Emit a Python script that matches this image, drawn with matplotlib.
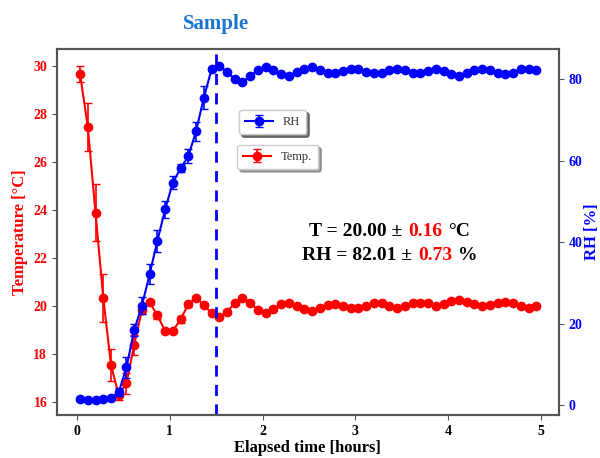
import numpy as np
import matplotlib
matplotlib.use("Agg")
import matplotlib.pyplot as plt

plt.rcParams['font.family'] = 'serif'
plt.rcParams['font.serif'] = ['Liberation Serif', 'DejaVu Serif']
plt.rcParams['font.weight'] = 'bold'

# sampling times in minutes (one reading every 5 min)
minutes = [2, 7, 12, 17, 22, 27, 32, 37, 42, 47, 52, 57, 62, 67, 72, 77, 82, 87, 92, 97,
           102, 107, 112, 117, 122, 127, 132, 137, 142, 147, 152, 157, 162, 167, 172, 177, 182, 187, 192, 197,
           202, 207, 212, 217, 222, 227, 232, 237, 242, 247, 252, 257, 262, 267, 272, 277, 282, 287, 292, 297]

temp = [29.67, 27.47, 23.89, 20.35, 17.54, 16.29, 16.78, 18.38, 19.83, 20.15,
        19.61, 18.96, 18.96, 19.45, 20.07, 20.35, 20.04, 19.70, 19.55, 19.76,
        20.11, 20.35, 20.14, 19.83, 19.70, 19.86, 20.07, 20.14, 20.00, 19.86,
        19.79, 19.90, 20.04, 20.08, 20.01, 19.92, 19.92, 20.00, 20.11, 20.11,
        20.01, 19.90, 20.00, 20.11, 20.14, 20.11, 20.00, 20.07, 20.21, 20.25,
        20.18, 20.07, 20.01, 20.04, 20.14, 20.15, 20.11, 20.01, 19.93, 20.00]
temp_err = [0.33, 1.00, 1.20, 1.00, 0.68, 0.20, 0.43, 0.42, 0.17, 0.10,
            0.15, 0.10, 0.10, 0.15, 0.10, 0.08, 0.08, 0.08, 0.08, 0.08,
            0.08, 0.08, 0.08, 0.08, 0.08, 0.08, 0.08, 0.08, 0.08, 0.08,
            0.08, 0.08, 0.08, 0.08, 0.08, 0.08, 0.08, 0.08, 0.08, 0.08,
            0.08, 0.08, 0.08, 0.08, 0.08, 0.08, 0.08, 0.08, 0.08, 0.08,
            0.08, 0.08, 0.08, 0.08, 0.08, 0.08, 0.08, 0.08, 0.08, 0.08]

rh = [1.5, 1.3, 1.3, 1.5, 1.7, 3.1, 9.2, 18.4, 24.4, 32.1,
      40.3, 48.0, 54.6, 58.1, 61.1, 67.2, 75.4, 82.4, 83.3, 81.8,
      80.0, 79.2, 80.8, 82.2, 82.9, 82.2, 81.2, 80.8, 81.8, 82.6,
      83.0, 82.2, 81.6, 81.4, 82.0, 82.5, 82.5, 81.8, 81.4, 81.5,
      82.2, 82.6, 82.2, 81.6, 81.4, 82.0, 82.5, 82.0, 81.2, 80.8,
      81.4, 82.2, 82.5, 82.2, 81.5, 81.2, 81.6, 82.4, 82.6, 82.2]
rh_err = [0.3, 0.3, 0.3, 0.3, 0.3, 1.0, 2.5, 1.5, 2.0, 2.5,
          2.7, 2.0, 1.6, 1.0, 1.7, 2.3, 2.8, 0.5, 0.3, 0.3,
          0.3, 0.3, 0.3, 0.3, 0.3, 0.3, 0.3, 0.3, 0.3, 0.3,
          0.3, 0.3, 0.3, 0.3, 0.3, 0.3, 0.3, 0.3, 0.3, 0.3,
          0.3, 0.3, 0.3, 0.3, 0.3, 0.3, 0.3, 0.3, 0.3, 0.3,
          0.3, 0.3, 0.3, 0.3, 0.3, 0.3, 0.3, 0.3, 0.3, 0.3]

sample_time = 1.5
hours = np.array(minutes) / 60.0

fig = plt.figure(figsize=(6, 4.58), dpi=100)
ax = fig.add_axes([0.095, 0.094, 0.836, 0.799])
ax2 = ax.twinx()

ax.errorbar(hours, temp, yerr=temp_err, color='red', marker='o', ms=6, lw=1.5,
            capsize=3, elinewidth=1.2, label='Temp.')
ax2.errorbar(hours, rh, yerr=rh_err, color='blue', marker='o', ms=6, lw=1.5,
             capsize=3, elinewidth=1.2, label='RH')
ax2.axvline(sample_time, color='blue', ls='--', lw=2, dashes=(4, 3))

ax.set_xlim(-0.215, 5.19)
ax.set_ylim(15.46, 30.71)
ax2.set_ylim(-2.45, 87.4)
ax.set_xticks([0, 1, 2, 3, 4, 5])
ax.set_yticks([16, 18, 20, 22, 24, 26, 28, 30])
ax2.set_yticks([0, 20, 40, 60, 80])

ax.set_xlabel('Elapsed time [hours]', fontsize=12, fontweight='bold', labelpad=2)
ax.set_ylabel('Temperature [°C]', fontsize=12, fontweight='bold', color='red', labelpad=4)
ax2.set_ylabel('RH [%]', fontsize=12, fontweight='bold', color='blue', labelpad=1)

ax.tick_params(axis='y', colors='red', labelsize=10)
ax.tick_params(axis='x', labelsize=10)
ax2.tick_params(axis='y', colors='blue', labelsize=10)
for a in (ax, ax2):
    for lab in a.get_xticklabels() + a.get_yticklabels():
        lab.set_fontweight('bold')
    for s in a.spines.values():
        s.set_color('#555555')
        s.set_linewidth(1.5)
ax.tick_params(axis='both', color='#555555')
ax2.tick_params(axis='y', color='#555555')

l1 = ax2.legend(loc='center', bbox_to_anchor=(0.43, 0.80), shadow=True, fontsize=9,
                handlelength=2.2, borderpad=0.5, framealpha=1)
l2 = ax.legend(loc='center', bbox_to_anchor=(0.44, 0.705), shadow=True, fontsize=9,
               handlelength=2.2, borderpad=0.5, framealpha=1)
for lg in (l1, l2):
    for t in lg.get_texts():
        t.set_fontweight('normal')
        t.set_color('#333333')
ax2.add_artist(l1)
l2.remove()
ax2.add_artist(l2)

# statistics text
def stat_line(x, y, pre, val, post):
    t1 = ax2.text(x, y, pre, transform=ax2.transAxes, fontsize=14, fontweight='bold', va='bottom')
    t2 = ax2.annotate(val, xy=(1, 0), xycoords=t1, xytext=(4, 0), textcoords='offset points',
                      fontsize=14, fontweight='bold', color='red', va='bottom')
    ax2.annotate(post, xy=(1, 0), xycoords=t2, xytext=(4, 0), textcoords='offset points',
                 fontsize=14, fontweight='bold', va='bottom')

stat_line(0.503, 0.478, 'T = 20.00 ±', '0.16', '°C')
stat_line(0.489, 0.413, 'RH = 82.01 ±', '0.73', '%')

fig.text(0.36, 0.948, 'Sample', ha='center', va='center', fontsize=15,
         fontweight='bold', color='#1874CD')

fig.savefig('out.png', dpi=100)
